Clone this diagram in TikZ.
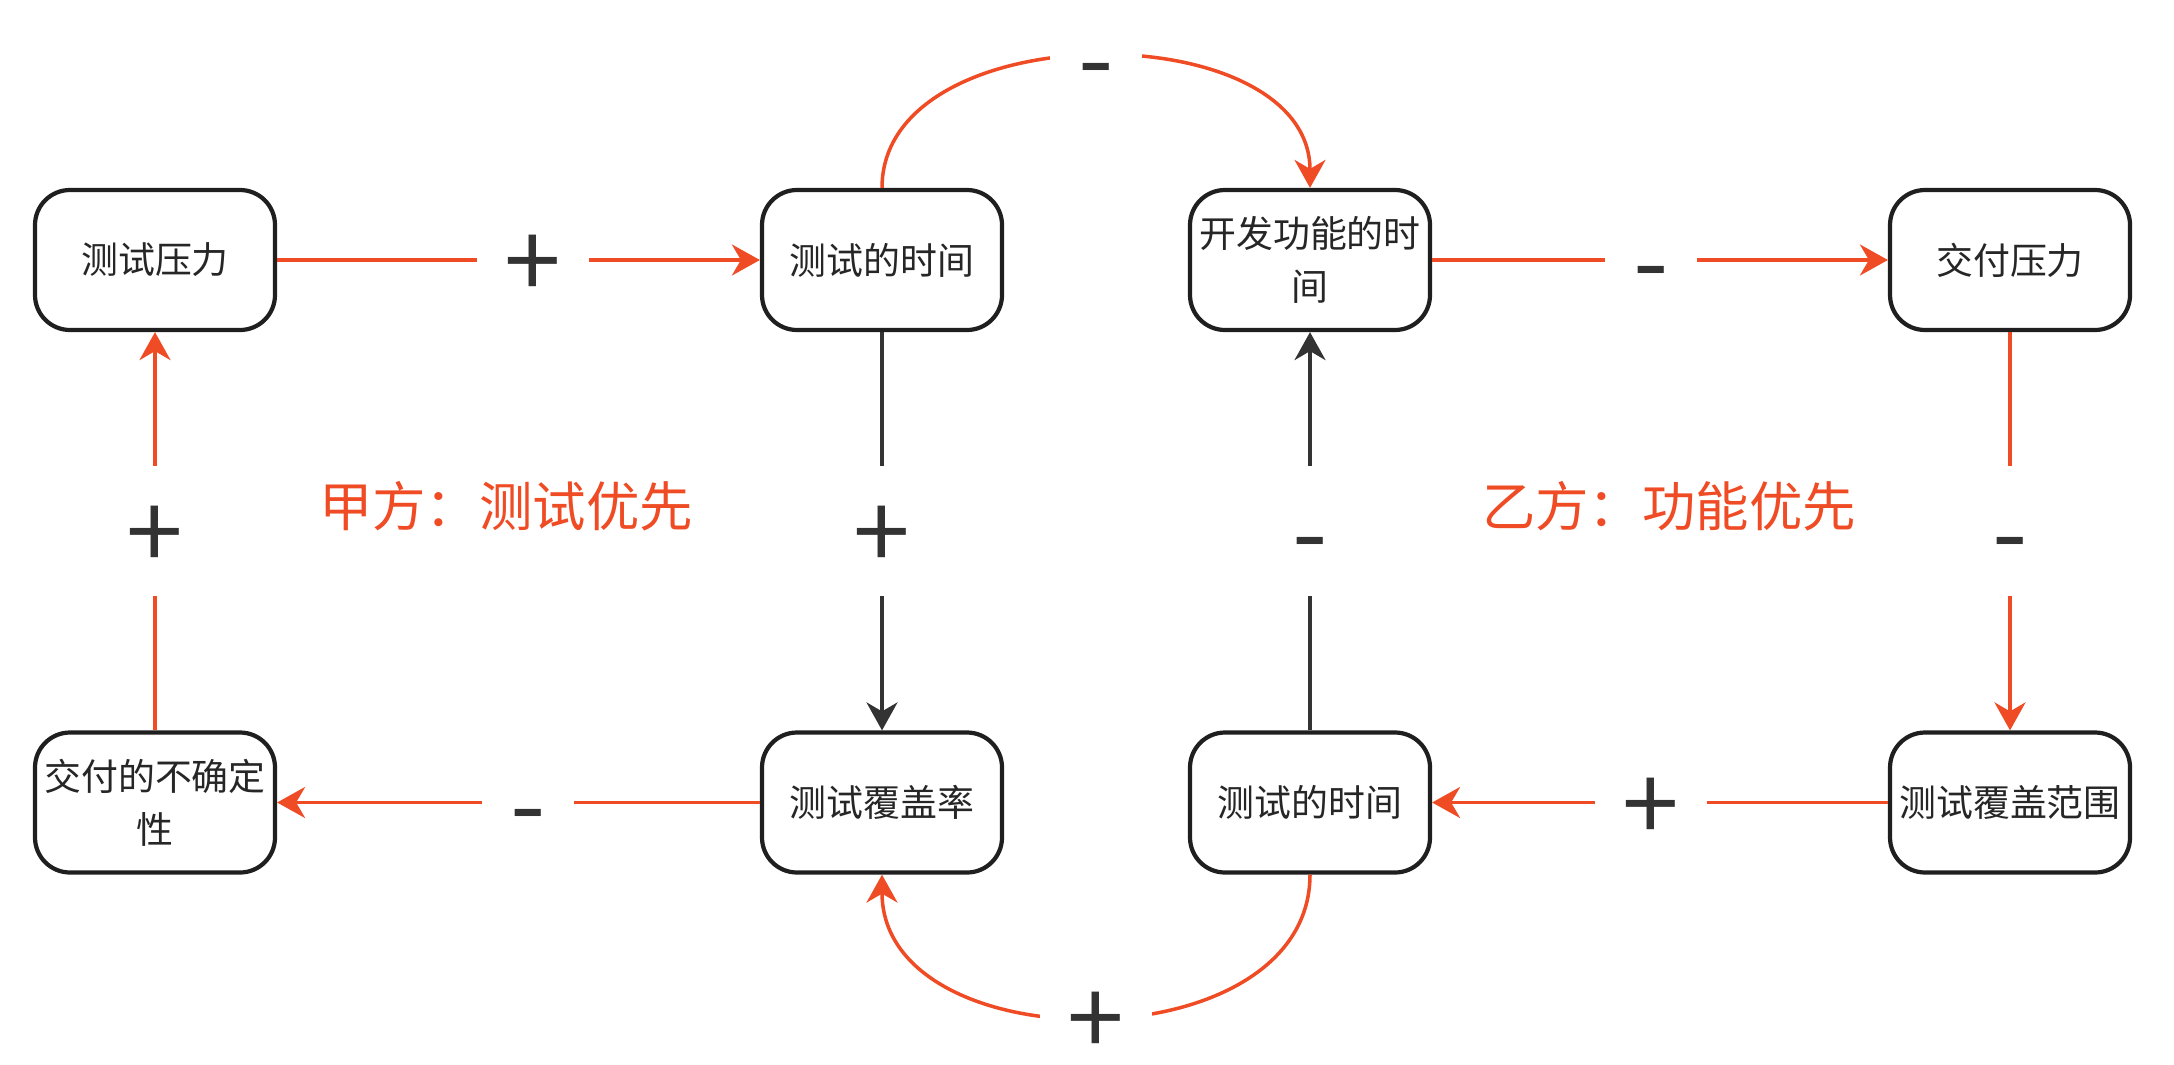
\documentclass[tikz,border=0pt]{standalone}
\usepackage{fontspec}
\newfontfamily\cjk{Noto Sans CJK SC}
\usetikzlibrary{arrows.meta}

\begin{document}
\begin{tikzpicture}[
  >={Stealth[length=2.8mm,width=3.1mm,inset=0.9mm]},font=\cjk,
  box/.style={rectangle,rounded corners=3.5mm,draw=black!88,fill=white,line width=1.2pt,
              minimum width=24mm,minimum height=14mm,inner sep=1pt,align=center,
              text=black!85,font=\cjk\fontsize{10.5}{15}\selectfont},
  rline/.style={->,line width=1pt,draw=cred},
  kline/.style={->,line width=1pt,draw=cdark},
  sign/.style={fill=white,inner xsep=2.8mm,inner ysep=0pt,minimum height=13mm,
               text=cdark,text height=23pt,text depth=1pt,
               font=\cjk\fontsize{29}{30}\selectfont},
  side/.style={text=cred,font=\cjk\fontsize{15.2}{18}\selectfont},
]
  \definecolor{cred}{HTML}{EF4B24}
  \definecolor{cdark}{HTML}{333333}
  \useasboundingbox (0,0) rectangle (21.74,10.64);

  % 甲方 (left loop)
  \node[box] (press) at (1.55,8.04) {测试压力};
  \node[box] (ttime) at (8.82,8.04) {测试的时间};
  \node[box] (cover) at (8.82,2.615) {测试覆盖率};
  \node[box] (risk)  at (1.55,2.615) {交付的不确定\\性};
  % 乙方 (right loop)
  \node[box] (dtime) at (13.10,8.04) {开发功能的时\\间};
  \node[box] (dpress) at (20.10,8.04) {交付压力};
  \node[box] (range) at (20.10,2.615) {测试覆盖范围};
  \node[box] (ttime2) at (13.10,2.615) {测试的时间};

  % links
  \draw[rline] (press) -- node[sign,pos=0.53]{+} (ttime);
  \draw[kline] (ttime) -- node[sign]{+} (cover);
  \draw[rline] (cover) -- node[sign,pos=0.48]{-} (risk);
  \draw[rline] (risk) -- node[sign]{+} (press);
  \draw[rline] (dtime) -- node[sign,pos=0.48]{-} (dpress);
  \draw[rline] (dpress) -- node[sign]{-} (range);
  \draw[rline] (range) -- node[sign,pos=0.52]{+} (ttime2);
  \draw[kline] (ttime2) -- node[sign]{-} (dtime);
  \draw[rline] (ttime.north) .. controls +(0,1.75) and +(0,1.75) .. node[sign]{-} (dtime.north);
  \draw[rline] (ttime2.south) .. controls +(0,-1.9) and +(0,-1.9) .. node[sign]{+} (cover.south);

  % titles
  \node[side] (sideA) at (5.06,5.58) {甲方：测试优先};
  \node[side] (sideB) at (16.69,5.58) {乙方：功能优先};
\end{tikzpicture}
\end{document}
